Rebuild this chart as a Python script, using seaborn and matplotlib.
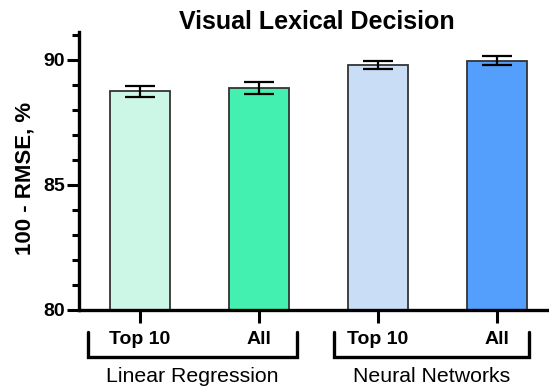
import matplotlib
matplotlib.use("Agg")
import matplotlib.pyplot as plt
from matplotlib.ticker import MultipleLocator, FixedLocator
from matplotlib.lines import Line2D
import seaborn as sns
import pandas as pd
import numpy as np

# ---- data ----
bar_labels = ["Top 10", "All", "Top 10", "All"]
bar_ids = ["LR Top 10", "LR All", "NN Top 10", "NN All"]
means = [88.73, 88.85, 89.78, 89.95]
errors = [0.22, 0.24, 0.17, 0.18]
colors = ["#CCF7E6", "#44F0AF", "#C9DDF7", "#549EFC"]
groups = ["Linear Regression", "Neural Networks"]
group_members = [[0, 1], [2, 3]]
title = "Visual Lexical Decision"
ylabel = "100 - RMSE, %"

sns.set_theme(style="white")
plt.rcParams["font.family"] = ["Liberation Sans", "DejaVu Sans"]
plt.rcParams.update({"text.color": "black", "xtick.color": "black",
                     "ytick.color": "black", "axes.labelcolor": "black"})

fig = plt.figure(figsize=(5.49, 3.90), dpi=100)
ax = fig.add_axes([79 / 549, 80 / 390, 1 - 79 / 549, (310 - 32) / 390])

df = pd.DataFrame({"bar": bar_ids, "value": means})
sns.barplot(data=df, x="bar", y="value", hue="bar", palette=colors,
            order=bar_ids, hue_order=bar_ids, legend=False, width=0.5,
            saturation=1, edgecolor="#333333", linewidth=1.3, errorbar=None, ax=ax)

xs = np.arange(len(means))
ax.errorbar(xs, means, yerr=errors, fmt="none", ecolor="black",
            elinewidth=1.6, capsize=10.5, capthick=1.6, zorder=5)

ax.set_ylim(80, 91.1)
ax.set_xlim(-0.513, 3.437)
ax.yaxis.set_major_locator(FixedLocator([80, 85, 90]))
ax.yaxis.set_minor_locator(MultipleLocator(1))
ax.set_xticks(xs)
ax.set_xticklabels(bar_labels, fontsize=14, fontweight="bold")
for lab in ax.get_yticklabels():
    lab.set_fontweight("bold")
ax.tick_params(axis="y", which="major", length=9, width=2.2, labelsize=14, pad=1, left=True, direction="out")
ax.tick_params(axis="y", which="minor", length=5, width=2.2, left=True, direction="out")
ax.tick_params(axis="x", which="major", length=9, width=2.2, pad=6, bottom=True, direction="out")

for s in ["top", "right"]:
    ax.spines[s].set_visible(False)
for s in ["left", "bottom"]:
    ax.spines[s].set_linewidth(2.4)
    ax.spines[s].set_color("black")

ax.set_xlabel("")
ax.set_ylabel("")
fig.text(25 / 549, 1 - 178 / 390, ylabel, rotation=90, fontsize=16,
         fontweight="bold", ha="center", va="center")
fig.text(317 / 549, 1 - 22 / 390, title, fontsize=18, fontweight="bold",
         ha="center", va="center")

# group brackets below axis
trans = matplotlib.transforms.blended_transform_factory(ax.transData, fig.transFigure)
y_top = 1 - 332 / 390
y_bot = 1 - 357 / 390
pads = [(0.44, 0.32), (0.37, 0.27)]
for g, members, (pl, pr) in zip(groups, group_members, pads):
    x0 = members[0] - pl
    x1 = members[-1] + pr
    line = Line2D([x0, x0, x1, x1], [y_top, y_bot, y_bot, y_top], transform=trans,
                  color="black", lw=2.4, clip_on=False, solid_joinstyle="miter")
    fig.add_artist(line)
    ax.text((x0 + x1) / 2, 1 - 376 / 390, g, transform=trans, fontsize=15.3,
            ha="center", va="center")

fig.savefig("out.png", dpi=100)
